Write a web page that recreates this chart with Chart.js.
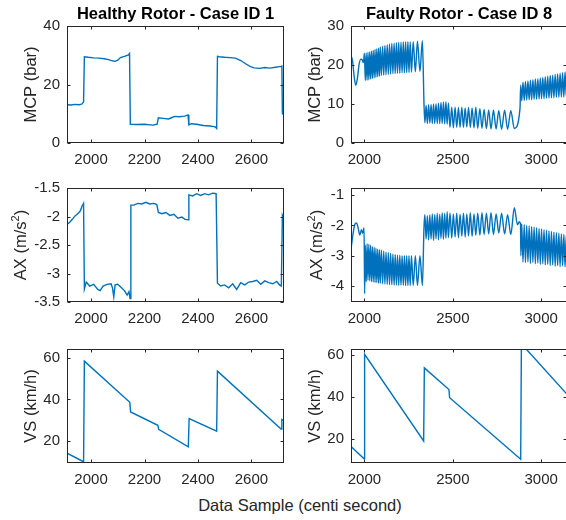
<!DOCTYPE html>
<html>
<head>
<meta charset="utf-8">
<script src="https://cdn.jsdelivr.net/npm/chart.js@4.4.1/dist/chart.umd.min.js"></script>
<style>
  body { margin: 0; background: #fff; overflow: hidden; }
  #fig { position: relative; width: 566px; height: 520px; overflow: hidden; background: #fff;
         font-family: "Liberation Sans", Arial, Helvetica, sans-serif; color: #262626; }
  #fig canvas { position: absolute; }
  #xlabel { position: absolute; left: 300px; top: 505px; transform: translate(-50%, -50%);
            font-size: 16.5px; white-space: nowrap; }
</style>
</head>
<body>
<div id="fig">
  <canvas id="mcpHealthy"></canvas>
  <canvas id="mcpFaulty"></canvas>
  <canvas id="axHealthy"></canvas>
  <canvas id="axFaulty"></canvas>
  <canvas id="vsHealthy"></canvas>
  <canvas id="vsFaulty"></canvas>
  <div id="xlabel">Data Sample (centi second)</div>
</div>
<script>
// ---- data: [sample, value] ----
const healthyMcp = [
  [1910,13.1],[1925,13.0],[1940,13.2],[1955,13.1],[1965,13.3],[1972,14.0],[1975,29.5],[1990,29.3],
  [2010,29.1],[2030,29.0],[2050,28.8],[2065,28.5],[2080,28.1],[2090,27.9],[2100,28.3],[2110,29.2],
  [2125,29.6],[2140,30.1],[2144,30.6],[2147,6.4],[2170,6.3],[2200,6.4],[2230,6.1],[2247,6.4],
  [2252,8.6],[2270,8.4],[2290,8.2],[2305,8.8],[2312,9.1],[2330,9.0],[2350,9.2],[2363,9.6],
  [2366,6.2],[2375,6.6],[2395,6.4],[2420,6.0],[2445,5.8],[2465,5.5],[2470,5.0],[2473,29.6],
  [2480,29.5],[2500,29.3],[2520,29.2],[2540,29.0],[2560,28.2],[2580,27.0],[2595,26.2],[2610,25.7],
  [2630,25.5],[2650,25.8],[2670,25.6],[2690,25.9],[2705,26.1],[2712,26.2],[2714,26.6],[2716,10.0],[2722,9.6]
];
const healthyAx = [
  [1910,-2.14],[1920,-2.10],[1930,-2.05],[1940,-1.99],[1946,-1.97],[1955,-1.93],[1960,-1.90],[1966,-1.82],
  [1972,-1.77],[1975,-3.27],[1982,-3.15],[1995,-3.22],[2010,-3.19],[2025,-3.28],[2034,-3.30],[2045,-3.22],
  [2060,-3.19],[2075,-3.18],[2080,-3.25],[2085,-3.41],[2090,-3.20],[2100,-3.19],[2112,-3.24],[2125,-3.30],
  [2135,-3.38],[2142,-3.32],[2146,-3.44],[2149,-1.80],[2160,-1.80],[2175,-1.77],[2190,-1.78],[2205,-1.75],
  [2220,-1.78],[2235,-1.77],[2246,-1.79],[2252,-1.93],[2265,-1.95],[2280,-1.93],[2295,-1.98],[2310,-1.96],
  [2325,-2.03],[2340,-2.01],[2352,-2.05],[2364,-2.06],[2366,-1.62],[2380,-1.64],[2395,-1.60],[2410,-1.63],
  [2425,-1.60],[2440,-1.62],[2455,-1.59],[2468,-1.60],[2473,-3.17],[2485,-3.22],[2500,-3.20],[2515,-3.25],
  [2530,-3.18],[2545,-3.28],[2560,-3.16],[2575,-3.20],[2590,-3.15],[2605,-3.14],[2620,-3.12],[2635,-3.19],
  [2650,-3.13],[2665,-3.16],[2680,-3.18],[2695,-3.14],[2705,-3.20],[2712,-3.22],[2716,-1.98],[2722,-2.05]
];
const healthyVs = [
  [1910,14.3],[1972,10.2],[1975,58.3],[2145,38.6],[2148,34.0],[2250,27.6],[2253,25.7],[2364,17.3],
  [2367,30.8],[2470,24.8],[2473,53.5],[2711,25.8],[2714,30.4],[2722,29.8]
];

const faultyMcp = [
  [1924,22.4],[1933,21.0],[1942,17.0],[1951,14.8],[1960,16.5],[1970,20.2],[1980,21.5],[1988,21.3],[1994,20.6],
  [2000,23.0],[2005,16.0],[2010,23.1],[2015,16.1],[2020,23.3],[2025,16.2],[2030,23.4],[2035,16.4],[2040,23.6],
  [2045,16.5],[2050,23.8],[2055,16.7],[2060,24.0],[2065,16.8],[2070,24.2],[2075,17.0],[2080,24.4],[2085,17.1],
  [2090,24.6],[2096,17.3],[2103,24.8],[2109,17.4],[2116,25.0],[2122,17.5],[2129,25.2],[2135,17.6],[2142,25.4],
  [2148,17.7],[2155,25.5],[2161,17.8],[2168,25.6],[2174,17.8],[2181,25.7],[2187,17.9],[2194,25.8],[2200,17.9],
  [2207,25.8],[2213,18.0],[2220,25.9],[2226,18.0],[2233,25.9],[2239,18.1],[2246,26.0],[2252,18.1],[2259,25.9],
  [2266,18.2],[2276,26.0],[2288,18.3],[2300,26.1],[2314,18.4],[2328,26.2],[2337,10.0],
  [2342,5.2],[2349,9.6],[2356,5.0],[2363,9.8],[2370,5.1],[2377,9.9],[2384,5.0],[2391,10.0],[2398,5.0],
  [2405,10.1],[2412,5.0],[2419,10.2],[2426,5.0],[2433,10.4],[2440,5.0],[2447,10.5],[2454,4.9],[2461,10.6],
  [2468,4.8],[2475,10.3],[2484,4.0],[2494,9.2],[2503,3.9],[2513,9.2],[2522,4.0],[2532,9.1],[2541,4.0],
  [2551,9.2],[2560,4.0],[2570,9.0],[2579,4.1],[2589,9.1],[2599,4.0],[2609,9.0],[2620,3.9],[2630,9.2],
  [2641,3.8],[2653,8.8],[2665,3.8],[2677,8.6],[2690,3.7],[2703,8.5],[2716,3.6],[2730,8.4],[2745,3.6],
  [2760,8.3],[2776,3.5],[2793,8.4],[2810,3.5],[2828,8.3],[2848,3.7],[2880,8.8],
  [2884,14.8],[2890,10.8],[2897,15.6],[2904,10.9],[2911,15.8],[2918,11.0],[2925,15.9],[2932,11.1],[2939,16.1],
  [2946,11.1],[2953,16.2],[2960,11.2],[2967,16.4],[2974,11.2],[2981,16.5],[2988,11.3],[2995,16.7],[3002,11.4],
  [3009,16.8],[3016,11.4],[3023,17.0],[3030,11.5],[3037,17.1],[3044,11.5],[3051,17.3],[3058,11.6],[3065,17.4],
  [3072,11.6],[3079,17.6],[3086,11.7],[3093,17.7],[3100,11.7],[3107,17.9],[3114,11.8],[3121,18.0],[3128,11.8],
  [3135,18.2],[3142,11.9],[3149,18.3]
];
const faultyAx = [
  [1924,-2.79],[1935,-2.30],[1945,-1.98],[1955,-1.92],[1965,-2.10],[1974,-2.32],[1983,-2.14],[1990,-2.26],[1998,-2.08],
  [2001,-4.25],[2005,-2.65],[2010,-3.85],[2015,-2.60],[2020,-3.80],[2025,-2.62],[2030,-3.82],[2035,-2.65],[2040,-3.85],
  [2045,-2.70],[2050,-3.86],[2055,-2.72],[2060,-3.88],[2065,-2.75],[2070,-3.88],[2075,-2.78],[2080,-3.90],[2085,-2.80],
  [2090,-3.90],[2096,-2.82],[2103,-3.92],[2109,-2.85],[2116,-3.93],[2122,-2.88],[2129,-3.94],[2135,-2.90],[2142,-3.95],
  [2148,-2.92],[2155,-3.95],[2161,-2.95],[2168,-3.96],[2174,-2.96],[2181,-3.96],[2187,-2.98],[2194,-3.97],[2200,-2.98],
  [2207,-3.97],[2213,-3.00],[2220,-3.97],[2226,-3.00],[2233,-3.98],[2239,-3.00],[2246,-3.98],[2252,-3.00],[2259,-3.98],
  [2266,-3.00],[2276,-3.98],[2288,-3.00],[2300,-3.98],[2314,-3.00],[2328,-3.98],[2337,-2.05],
  [2342,-1.65],[2349,-2.45],[2356,-1.68],[2363,-2.48],[2370,-1.66],[2377,-2.45],[2384,-1.62],[2391,-2.50],[2398,-1.64],
  [2405,-2.44],[2412,-1.60],[2419,-2.47],[2426,-1.63],[2433,-2.43],[2440,-1.58],[2447,-2.46],[2454,-1.60],[2461,-2.42],
  [2468,-1.55],[2475,-2.40],[2484,-1.60],[2494,-2.42],[2503,-1.62],[2513,-2.38],[2522,-1.60],[2532,-2.40],[2541,-1.63],
  [2551,-2.36],[2560,-1.60],[2570,-2.38],[2579,-1.62],[2589,-2.35],[2599,-1.58],[2609,-2.36],[2620,-1.62],[2630,-2.33],
  [2641,-1.60],[2653,-2.32],[2665,-1.58],[2677,-2.30],[2690,-1.60],[2703,-2.28],[2716,-1.58],[2730,-2.30],[2745,-1.62],
  [2760,-2.25],[2776,-1.60],[2793,-2.28],[2810,-1.65],[2828,-2.30],[2848,-1.42],[2866,-1.98],[2876,-1.88],[2883,-1.95],
  [2885,-3.00],[2890,-1.95],[2897,-3.20],[2904,-1.98],[2911,-3.22],[2918,-2.00],[2925,-3.20],[2932,-2.02],[2939,-3.25],
  [2946,-2.04],[2953,-3.22],[2960,-2.06],[2967,-3.26],[2974,-2.08],[2981,-3.24],[2988,-2.10],[2995,-3.28],[3002,-2.12],
  [3009,-3.26],[3016,-2.14],[3023,-3.30],[3030,-2.16],[3037,-3.28],[3044,-2.18],[3051,-3.32],[3058,-2.20],[3065,-3.30],
  [3072,-2.22],[3079,-3.34],[3086,-2.24],[3093,-3.32],[3100,-2.26],[3107,-3.35],[3114,-2.28],[3121,-3.33],[3128,-2.30],
  [3135,-3.36],[3142,-2.32],[3149,-3.35]
];
const faultyVs = [
  [1924,16.4],[1998,10.5],[2001,60.3],[2335,19.0],[2339,53.8],[2478,43.5],[2482,39.6],[2884,10.3],[2888,65.3],[3149,41.0]
];

// axis ticks
const healthyXTicks = [2000, 2200, 2400, 2600];
const faultyXTicks = [2000, 2500, 3000];
const mcpHealthyTicks = [0, 20, 40];
const mcpFaultyTicks = [0, 10, 20, 30];
const axHealthyTicks = [-3.5, -3, -2.5, -2, -1.5];
const axFaultyTicks = [-4, -3, -2, -1];
const vsTicks = [20, 40, 60];

const FONT = '"Liberation Sans", Arial, Helvetica, sans-serif';
const INK = '#262626';
const LINE = '#0072BD';

Chart.defaults.font.family = FONT;
Chart.defaults.color = INK;

// axes box with inward tick marks on all four sides, optional bold title,
// and a rotated y label drawn by hand so it can carry a superscript
const boxTicks = {
  id: 'boxTicks',
  afterDraw(chart, args, opts) {
    const { ctx, chartArea: a, scales: { x, y } } = chart;
    const L = Math.round(a.left) + 0.5, R = Math.round(a.right) - 0.5;
    const T = Math.round(a.top) + 0.5, B = Math.round(a.bottom) - 0.5;
    ctx.save();
    ctx.strokeStyle = INK;
    ctx.lineWidth = 1;
    ctx.strokeRect(L, T, R - L, B - T);
    ctx.beginPath();
    const len = 3;
    x.ticks.forEach(t => {
      const px = Math.round(x.getPixelForValue(t.value)) + 0.5;
      ctx.moveTo(px, B); ctx.lineTo(px, B - len);
      ctx.moveTo(px, T); ctx.lineTo(px, T + len);
    });
    y.ticks.forEach(t => {
      const py = Math.round(y.getPixelForValue(t.value)) + 0.5;
      ctx.moveTo(L, py); ctx.lineTo(L + len, py);
      ctx.moveTo(R, py); ctx.lineTo(R - len, py);
    });
    ctx.stroke();
    if (opts.title) {
      ctx.fillStyle = '#000';
      ctx.font = 'bold 16.5px ' + FONT;
      ctx.textAlign = 'center';
      ctx.textBaseline = 'middle';
      ctx.fillText(opts.title, (a.left + a.right) / 2, opts.titleY);
    }
    if (opts.yLabel) {
      const [pre, sup, post] = opts.yLabel;
      const big = '16.5px ' + FONT, small = '11px ' + FONT;
      ctx.font = big; const w1 = ctx.measureText(pre).width, w3 = ctx.measureText(post).width;
      ctx.font = small; const w2 = ctx.measureText(sup).width;
      const total = w1 + w2 + w3;
      ctx.translate(opts.yLabelX, (a.top + a.bottom) / 2);
      ctx.rotate(-Math.PI / 2);
      ctx.fillStyle = INK;
      ctx.textAlign = 'left';
      ctx.textBaseline = 'middle';
      let cx = -total / 2;
      ctx.font = big; ctx.fillText(pre, cx, 0); cx += w1;
      ctx.font = small; ctx.fillText(sup, cx, -6); cx += w2;
      ctx.font = big; ctx.fillText(post, cx, 0);
    }
    ctx.restore();
  }
};

function panel(id, p) {
  const cv = document.getElementById(id);
  cv.width = p.padL + p.plotW + p.padR;
  cv.height = p.padT + p.plotH + p.padB;
  cv.style.left = p.left + 'px';
  cv.style.top = p.top + 'px';
  const fixTicks = list => scale => { scale.ticks = list.map(v => ({ value: v })); };
  const handLabel = Array.isArray(p.yLabel);
  return new Chart(cv, {
    type: 'line',
    data: {
      datasets: [{
        data: p.series.map(([x, y]) => ({ x, y })),
        borderColor: LINE,
        borderWidth: 1.4,
        pointRadius: 0,
        fill: false,
        tension: 0,
        cubicInterpolationMode: p.smooth ? 'monotone' : 'default'
      }]
    },
    options: {
      responsive: false,
      animation: false,
      devicePixelRatio: 1,
      layout: { padding: { top: p.padT, right: p.padR, bottom: 0, left: 0 } },
      plugins: {
        legend: { display: false },
        tooltip: { enabled: false },
        boxTicks: { title: p.title || null, titleY: 14,
                    yLabel: handLabel ? p.yLabel : null, yLabelX: p.labelX }
      },
      scales: {
        x: {
          type: 'linear', min: p.xMin, max: p.xMax,
          afterBuildTicks: fixTicks(p.xTicks),
          afterFit: s => { s.height = p.padB; },
          grid: { display: false, drawTicks: false },
          border: { display: false },
          ticks: { font: { size: 15 }, color: INK, padding: 8, maxRotation: 0, autoSkip: false,
                   callback: v => String(v) }
        },
        y: {
          type: 'linear', min: p.yMin, max: p.yMax,
          afterBuildTicks: fixTicks(p.yTicks),
          afterFit: s => { s.width = p.padL; },
          grid: { display: false, drawTicks: false },
          border: { display: false },
          ticks: { font: { size: 15 }, color: INK, padding: 7, callback: v => String(v) },
          title: { display: !handLabel, text: handLabel ? '' : p.yLabel, color: INK, font: { size: 16.5 },
                   padding: { top: p.labelX - 9.9, bottom: 0 } }
        }
      }
    },
    plugins: [boxTicks]
  });
}

const leftCol = { left: 0, padL: 67, plotW: 217, padR: 6, xMin: 1910, xMax: 2722, xTicks: healthyXTicks };
const rightCol = { left: 280, padL: 71, plotW: 216, padR: 2, xMin: 1924, xMax: 3146, xTicks: faultyXTicks, smooth: true };
const row1 = { top: 0, padT: 26, plotH: 117, padB: 30 };
const row2 = { top: 172, padT: 14, plotH: 116, padB: 30 };
const row3 = { top: 333, padT: 14, plotH: 116, padB: 30 };

panel('mcpHealthy', { ...leftCol, ...row1, series: healthyMcp, yMin: 0, yMax: 40, yTicks: mcpHealthyTicks,
  yLabel: 'MCP (bar)', labelX: 31.7, title: 'Healthy Rotor - Case ID 1' });
panel('mcpFaulty', { ...rightCol, ...row1, series: faultyMcp, yMin: 0, yMax: 30, yTicks: mcpFaultyTicks,
  yLabel: 'MCP (bar)', labelX: 35, title: 'Faulty Rotor - Case ID 8' });
panel('axHealthy', { ...leftCol, ...row2, series: healthyAx, yMin: -3.5, yMax: -1.5, yTicks: axHealthyTicks,
  yLabel: ['AX (m/s', '2', ')'], labelX: 21.7 });
panel('axFaulty', { ...rightCol, ...row2, series: faultyAx, yMin: -4.52, yMax: -0.77, yTicks: axFaultyTicks,
  yLabel: ['AX (m/s', '2', ')'], labelX: 37.7 });
panel('vsHealthy', { ...leftCol, ...row3, series: healthyVs, yMin: 9.6, yMax: 64.1, yTicks: vsTicks,
  yLabel: 'VS (km/h)', labelX: 31.7 });
panel('vsFaulty', { ...rightCol, ...row3, series: faultyVs, yMin: 8.5, yMax: 62.8, yTicks: vsTicks,
  yLabel: 'VS (km/h)', labelX: 35, smooth: false });
</script>
</body>
</html>
